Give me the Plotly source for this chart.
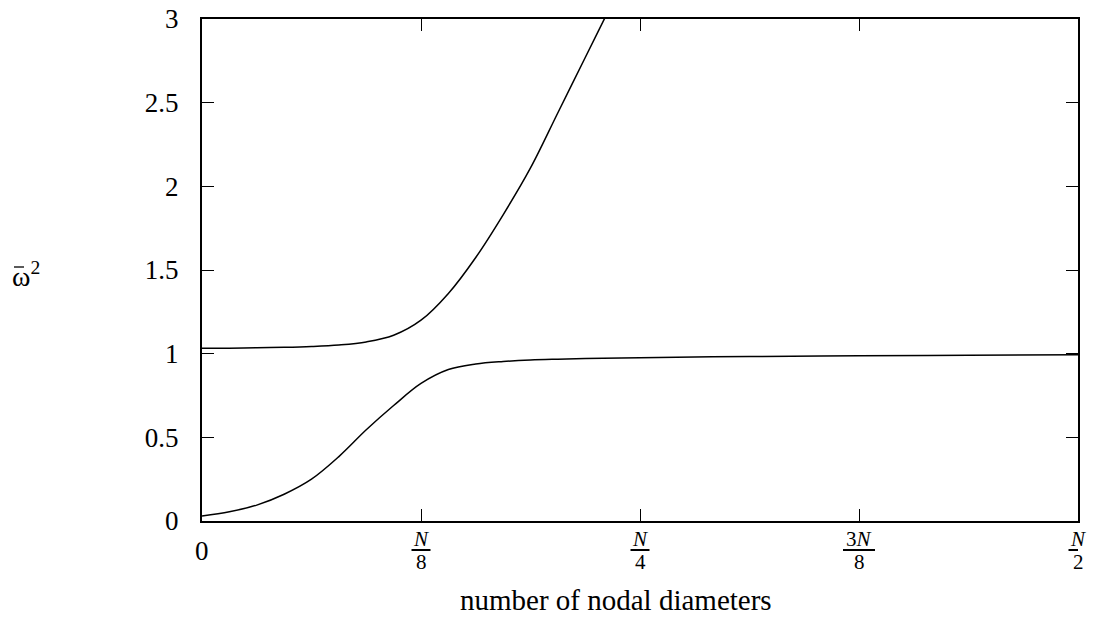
import plotly.graph_objects as go

# mode index in units where N/2 = 32 (N = 64)
k_lower = [0, 1, 2, 3, 4, 5, 6, 7, 8, 9, 10, 11, 12, 13, 14, 16, 18, 20, 24, 28, 32]
w2_lower = [0.03, 0.055, 0.095, 0.16, 0.25, 0.385, 0.545, 0.69, 0.822, 0.905, 0.938, 0.953,
            0.962, 0.967, 0.971, 0.976, 0.980, 0.983, 0.987, 0.990, 0.993]

k_upper = [0, 1, 2, 3, 4, 5, 6, 7, 8, 9, 10, 11, 12, 13, 14, 15, 16]
w2_upper = [1.032, 1.033, 1.035, 1.038, 1.043, 1.052, 1.07, 1.11, 1.20, 1.36, 1.575,
            1.83, 2.11, 2.44, 2.77, 3.10, 3.43]

x_tickvals = [0, 8, 16, 24, 32]
x_numer = ["", "N", "N", "3N", "N"]
x_denom = ["", "8", "4", "8", "2"]
x_barw = [0, 19, 19, 32, 19]

y_tickvals = [0, 0.5, 1, 1.5, 2, 2.5, 3]
y_ticktext = ["0", "0.5", "1", "1.5", "2", "2.5", "3"]

FONT = "Liberation Serif"
L, R, T, B = 202, 16, 19, 98
PW, PH = 1094 - L - R, 619 - T - B


def px_x(px):
    return (px - L) / PW


def px_y(py):
    return (619 - B - py) / PH


fig = go.Figure()
fig.add_trace(go.Scatter(x=k_lower, y=w2_lower, mode="lines",
                         line=dict(color="black", width=1.5, shape="spline", smoothing=1.0),
                         showlegend=False))
fig.add_trace(go.Scatter(x=k_upper, y=w2_upper, mode="lines",
                         line=dict(color="black", width=1.5, shape="spline", smoothing=1.0),
                         showlegend=False))

annotations = []
shapes = []
for v, n, d, w in zip(x_tickvals, x_numer, x_denom, x_barw):
    if n == "":
        annotations.append(dict(x=v, y=0, xref="x", yref="paper", text="0", showarrow=False,
                                xanchor="center", yanchor="middle", yshift=-30,
                                font=dict(family=FONT, size=27, color="black")))
        continue
    ntxt = n.replace("N", "<i>N</i>")
    annotations.append(dict(x=v, y=0, xref="x", yref="paper", text=ntxt, showarrow=False,
                            xanchor="center", yanchor="middle", yshift=-18,
                            font=dict(family=FONT, size=21, color="black")))
    annotations.append(dict(x=v, y=0, xref="x", yref="paper", text=d, showarrow=False,
                            xanchor="center", yanchor="middle", yshift=-41,
                            font=dict(family=FONT, size=21, color="black")))
    shapes.append(dict(type="line", xref="x", yref="paper", xsizemode="pixel",
                       ysizemode="pixel", xanchor=v, yanchor=0,
                       x0=-w / 2, x1=w / 2, y0=-29, y1=-29,
                       line=dict(color="black", width=2)))

# y-axis label: omega-bar squared
annotations.append(dict(x=px_x(10), y=px_y(274), xref="paper", yref="paper",
                        text="ω<sup>2</sup>", showarrow=False, xanchor="left",
                        yanchor="middle", font=dict(family=FONT, size=28, color="black")))
shapes.append(dict(type="line", xref="paper", yref="paper",
                   x0=px_x(14), x1=px_x(24), y0=px_y(267), y1=px_y(267),
                   line=dict(color="black", width=1.3)))

annotations.append(dict(x=px_x(616), y=0, xref="paper", yref="paper",
                        text="number of nodal diameters", showarrow=False,
                        xanchor="center", yanchor="middle", yshift=-79,
                        font=dict(family=FONT, size=29, color="black")))

fig.update_layout(
    width=1094, height=619,
    margin=dict(l=L, r=R, t=T, b=B),
    plot_bgcolor="white", paper_bgcolor="white",
    annotations=annotations, shapes=shapes,
    xaxis=dict(range=[0, 32], tickvals=x_tickvals, showticklabels=False,
               ticks="inside", ticklen=12, tickwidth=1.3, tickcolor="black",
               showline=True, linecolor="black", linewidth=2, mirror="ticks",
               showgrid=False, zeroline=False, automargin=False),
    yaxis=dict(range=[0, 3], tickvals=y_tickvals, ticktext=y_ticktext,
               ticks="inside", ticklen=12, tickwidth=1.3, tickcolor="black",
               showline=True, linecolor="black", linewidth=2, mirror="ticks",
               showgrid=False, zeroline=False, ticklabelstandoff=16, automargin=False,
               tickfont=dict(family=FONT, size=27, color="black")),
)

fig.write_html("out.html")
